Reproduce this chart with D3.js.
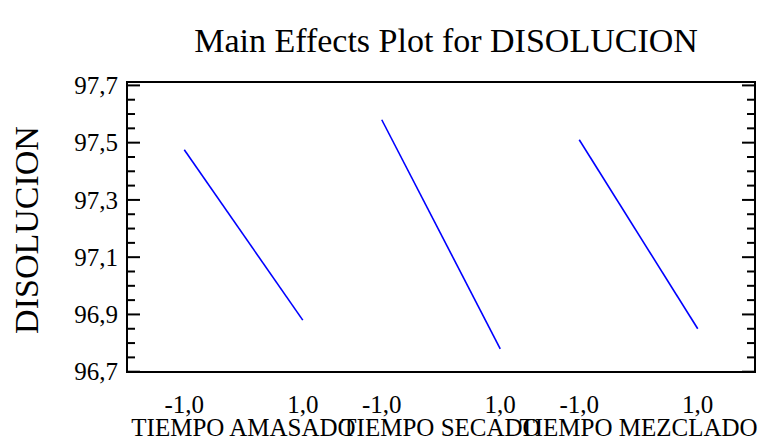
<!DOCTYPE html>
<html>
<head>
<meta charset="utf-8">
<script src="https://cdn.jsdelivr.net/npm/d3@7"></script>
<style>
  body { margin: 0; background: #fff; }
  text { font-family: "Liberation Serif", "Times New Roman", serif; fill: #000; }
</style>
</head>
<body>
<script>
// data
let factors = ["TIEMPO AMASADO", "TIEMPO SECADO", "TIEMPO MEZCLADO"];
let levels = [-1, 1];
let amasado = [97.475, 96.88];
let secado = [97.58, 96.78];
let mezclado = [97.51, 96.85];
let yTicks = [96.7, 96.9, 97.1, 97.3, 97.5, 97.7];
let yMinor = d3.range(96.7, 97.7001, 0.05);

let series = [amasado, secado, mezclado];

let width = 760, height = 439;
let frame = {left: 127, right: 755, top: 82, bottom: 372};

let svg = d3.select('body').append('svg').attr('width', width).attr('height', height);

// hyphen and comma, as in the original
let fmt = v => v.toFixed(1).replace('.', ',');

let xBand = d3.scaleBand()
    .domain(factors)
    .range([frame.left, frame.right])
    .paddingInner(0.4)
    .paddingOuter(0.29);

let xLevel = name => d3.scaleLinear().domain([-1, 1]).range([xBand(name), xBand(name) + xBand.bandwidth()]);

let y = d3.scaleLinear().domain([96.7, 97.7]).range([371.7, 85.4]);

// title
svg.append('text')
    .attr('x', 446).attr('y', 52)
    .attr('text-anchor', 'middle')
    .style('font-size', '34px')
    .text('Main Effects Plot for DISOLUCION');

// y label
svg.append('text')
    .attr('transform', 'translate(38,230) rotate(-90)')
    .attr('text-anchor', 'middle')
    .style('font-size', '34px')
    .text('DISOLUCION');

// frame
svg.append('rect')
    .attr('x', frame.left).attr('y', frame.top)
    .attr('width', frame.right - frame.left).attr('height', frame.bottom - frame.top)
    .attr('fill', 'none').attr('stroke', '#000').attr('stroke-width', 2);

// y ticks, inward on both sides
let isMajor = v => yTicks.some(t => Math.abs(t - v) < 1e-6);
let tickG = svg.append('g');
for (let v of yMinor) {
    let len = isMajor(v) ? 13 : 8;
    tickG.append('line')
        .attr('x1', frame.left).attr('x2', frame.left + len)
        .attr('y1', y(v)).attr('y2', y(v))
        .attr('stroke', '#000').attr('stroke-width', 2);
    tickG.append('line')
        .attr('x1', frame.right).attr('x2', frame.right - len)
        .attr('y1', y(v)).attr('y2', y(v))
        .attr('stroke', '#000').attr('stroke-width', 2);
}

svg.append('g').selectAll('text')
    .data(yTicks)
    .enter().append('text')
    .attr('x', 118)
    .attr('y', d => y(d))
    .attr('dy', '0.35em')
    .attr('text-anchor', 'end')
    .style('font-size', '25px')
    .text(d => fmt(d));

// x level labels and factor names
factors.forEach((name, i) => {
    let xs = xLevel(name);
    svg.append('g').selectAll('text')
        .data(levels)
        .enter().append('text')
        .attr('x', d => xs(d))
        .attr('y', 413)
        .attr('text-anchor', 'middle')
        .style('font-size', '25px')
        .text(d => fmt(d));

    svg.append('text')
        .attr('x', xBand(name) + xBand.bandwidth() / 2)
        .attr('y', 436)
        .attr('text-anchor', 'middle')
        .style('font-size', '25px')
        .text(name);

    let line = d3.line()
        .x((d, j) => xs(levels[j]))
        .y(d => y(d));

    svg.append('path')
        .datum(series[i])
        .attr('d', line)
        .attr('fill', 'none')
        .attr('stroke', '#0000ff')
        .attr('stroke-width', 1.6);
});
</script>
</body>
</html>
